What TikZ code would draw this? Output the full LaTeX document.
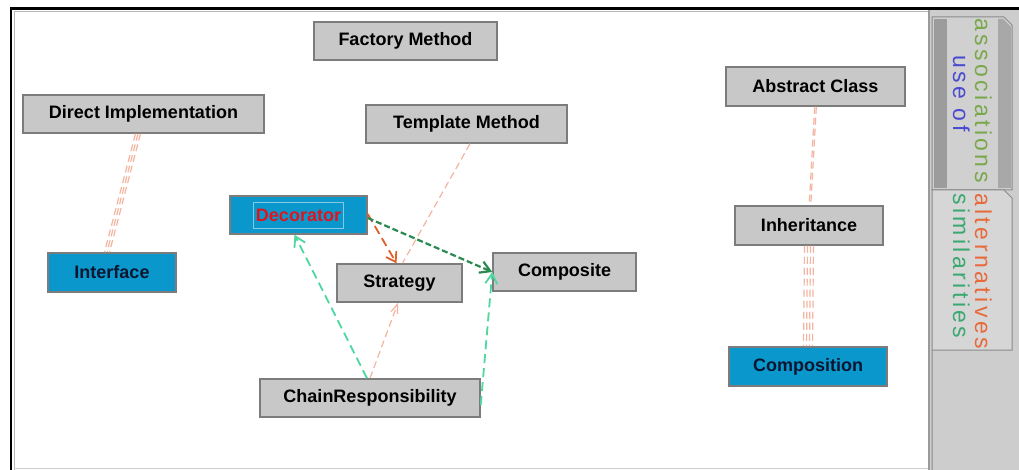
\documentclass[tikz,border=0pt]{standalone}
\usepackage{fontspec}
\setmainfont{Liberation Sans}
\newfontfamily\tabfont[LetterSpace=15]{Liberation Sans}
\usetikzlibrary{arrows.meta,calc}

\definecolor{boxgray}{HTML}{C8C8C8}
\definecolor{boxblue}{HTML}{0A98CC}
\definecolor{boxedge}{HTML}{7C7C7C}
\definecolor{darktext}{HTML}{0C1630}
\definecolor{redtext}{HTML}{E0141E}
\definecolor{focusline}{HTML}{86C6E6}
\definecolor{pale}{HTML}{F4B4A0}
\definecolor{orangered}{HTML}{E0602A}
\definecolor{darkgreen}{HTML}{2A8A50}
\definecolor{lightgreen}{HTML}{4CD89E}
\definecolor{panelgray}{HTML}{CDCDCD}
\definecolor{panelline}{HTML}{9A9A9A}
\definecolor{tabbody}{HTML}{D0D0D0}
\definecolor{tabbodyb}{HTML}{D6D6D6}
\definecolor{tabedge}{HTML}{8A8A8A}
\definecolor{tabdark}{HTML}{9C9C9C}
\definecolor{tabdarkr}{HTML}{A8A8A8}
\definecolor{assoc}{HTML}{79A84A}
\definecolor{useof}{HTML}{4A4AD0}
\definecolor{altern}{HTML}{E86A3A}
\definecolor{simil}{HTML}{3AA870}
\definecolor{bevel}{HTML}{B8B8B8}

\begin{document}
\begin{tikzpicture}[x=1pt,y=-1pt,
  pattern box/.style={draw=boxedge, line width=1.5pt, fill=boxgray, inner sep=0pt,
    minimum height=38pt, font=\fontsize{18}{20}\selectfont\bfseries, text=black},
  used box/.style={pattern box, fill=boxblue, text=darktext},
  paleline/.style={draw=pale, line width=1.2pt, dash pattern=on 7pt off 4pt},
  palearrow/.style={paleline, -{Straight Barb[length=9pt,width=7pt]}},
  altline/.style={draw=orangered, line width=1.8pt, dash pattern=on 9pt off 5pt,
    -{Straight Barb[length=9pt,width=12pt]}},
  simline/.style={draw=darkgreen, line width=2.2pt, dash pattern=on 6pt off 3pt,
    -{Straight Barb[length=10pt,width=12pt]}},
  assline/.style={draw=lightgreen, line width=1.8pt, dash pattern=on 9pt off 5pt,
    -{Straight Barb[length=10pt,width=12pt]}},
  tablabel/.style={rotate=-90, anchor=base west, inner sep=0pt,
    font=\tabfont\fontsize{23}{25}\selectfont}
]
\useasboundingbox (0,0) rectangle (1019,470);

% window frame and drawing area
\fill[white] (0,0) rectangle (1019,470);
\fill[panelgray] (929,10) rectangle (1019,470);
\draw[bevel, line width=1pt] (14,11.5) -- (929,11.5);
\draw[bevel, line width=1pt] (14.5,11) -- (14.5,470);
\draw[bevel!70, line width=1pt] (14,468.5) -- (929,468.5);
\draw[black, line width=2.5pt] (10,8.5) -- (1019,8.5);
\draw[black, line width=2.5pt] (11.2,8) -- (11.2,470);
\draw[panelline, line width=1.5pt] (929,10) -- (929,470);

% side tabs
\filldraw[fill=tabbody, draw=tabedge, line width=1pt]
  (932,17) -- (1004,17) -- (1012,25) -- (1012,190) -- (932,190) -- cycle;
\fill[tabdark] (934,19) rectangle (947,188);
\fill[tabdarkr] (998,19) -- (1003,19) -- (1011,27) -- (1011,188) -- (998,188) -- cycle;
\filldraw[fill=tabbodyb, draw=tabedge, line width=1pt]
  (932,470) -- (932,190) -- (1004,190) -- (1012,198) -- (1012,350) -- (932,350);
\node[tablabel, text=assoc] (lassoc) at (975,18) {associations};
\node[tablabel, text=useof] (luse) at (953,55) {use of};
\node[tablabel, text=altern] (lalt) at (975,193) {alternatives};
\node[tablabel, text=simil] (lsim) at (953,193) {similarities};

% pattern nodes
\node[pattern box, minimum width=183pt] (fm) at (405.5,41) {Factory Method};
\node[pattern box, minimum width=241pt] (di) at (143.5,114) {Direct Implementation};
\node[pattern box, minimum width=201pt] (tm) at (466.5,124) {Template Method};
\node[pattern box, minimum width=179pt, minimum height=39pt] (ac) at (815.5,86.5) {Abstract Class};
\node[pattern box, minimum width=148pt, minimum height=39pt] (in) at (809,225.5) {Inheritance};
\node[used box, minimum width=158pt, minimum height=39pt] (co) at (808,366.5) {Composition};
\node[used box, minimum width=128pt, minimum height=39pt] (if) at (112,272.5) {Interface};
\node[used box, minimum width=137pt, text=redtext] (de) at (298.5,215) {Decorator};
\node[pattern box, minimum width=125pt] (st) at (399.5,283) {Strategy};
\node[pattern box, minimum width=143pt] (cp) at (564.5,272) {Composite};
\node[pattern box, minimum width=220pt] (cr) at (370,398) {ChainResponsibility};

% focus outline around the selected label
\draw[focusline, line width=0.8pt] ($(de.center)+(-45.5,-13)$) rectangle ($(de.center)+(44.5,13)$);

% "use of" links
\foreach \d in {-2.5,0,2.5}
  \draw[paleline] ([xshift=-5.5pt+\d pt]di.south) -- ([xshift=-5pt+\d pt]if.north);
\draw[paleline] ([xshift=3.5pt]tm.south) -- ([xshift=3pt]st.north);
\draw[palearrow] (cr.north) -- ([xshift=-1.5pt]st.south);
\foreach \d in {-0.8,0.8}
  \draw[paleline] ([xshift=\d pt]ac.south) -- ([xshift=1pt+\d pt]in.north);
\foreach \d in {-4.5,-1.5,1.5,4.5}
  \draw[paleline] ([xshift=\d pt]in.south) -- ([xshift=\d pt]co.north);

% alternatives
\draw[altline] ([yshift=1pt]de.east) -- ([xshift=-3pt]st.north);

% similarities
\draw[simline] ([yshift=-3pt]de.east) -- (cp.west);

% associations
\draw[assline] ([xshift=-3pt]cr.north) -- ([xshift=-4pt]de.south);
\draw[assline] ([yshift=-7pt]cr.east) -- (cp.west);
\end{tikzpicture}
\end{document}
